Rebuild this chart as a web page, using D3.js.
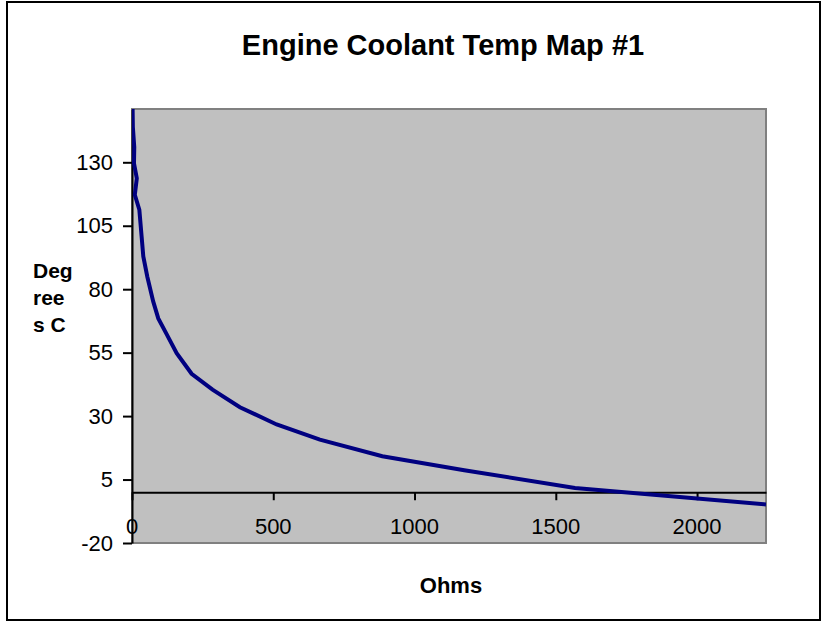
<!DOCTYPE html>
<html>
<head>
<meta charset="utf-8">
<script src="https://cdn.jsdelivr.net/npm/d3@7/dist/d3.min.js"></script>
<style>
  html, body { margin: 0; padding: 0; background: #fff; }
  svg { display: block; font-family: "Liberation Sans", Arial, Helvetica, sans-serif; }
</style>
</head>
<body>
<svg id="chart" width="822" height="623"></svg>
<script>
// Sensor resistance (ohms) against coolant temperature (degrees C)
const ohms  = [2, 3, 8, 7, 17, 10, 26, 34, 40, 54, 75, 93, 123, 158, 211, 285, 382, 512, 665, 886, 1176, 1568, 2244];
const temps = [152, 144, 136, 129.6, 123.7, 117.2, 111.3, 100.8, 92.9, 85, 75.2, 68.5, 62.2, 54.8, 46.7, 40.4, 33.5, 26.7, 20.7, 14.2, 8.7, 1.7, -4.8];

const xTicks = [0, 500, 1000, 1500, 2000];
const yTicks = [-20, 5, 30, 55, 80, 105, 130];
const xDomain = [0, 2244];
const yDomain = [-20, 151];

const titleText = "Engine Coolant Temp Map #1";
const xTitle = "Ohms";
const yTitleLines = ["Deg", "ree", "s C"];

const svg = d3.select("#chart");
const plot = { left: 132, right: 766, top: 109, bottom: 543 };

const x = d3.scaleLinear().domain(xDomain).range([plot.left, plot.right]);
const y = d3.scaleLinear().domain(yDomain).range([plot.bottom, plot.top]);

// outer chart frame
svg.append("rect")
  .attr("x", 7).attr("y", 2).attr("width", 813).attr("height", 618)
  .attr("fill", "#fff").attr("stroke", "#000").attr("stroke-width", 2);

// plot area
svg.append("rect")
  .attr("x", plot.left).attr("y", plot.top)
  .attr("width", plot.right - plot.left).attr("height", plot.bottom - plot.top)
  .attr("fill", "#c0c0c0").attr("stroke", "#808080").attr("stroke-width", 2);

svg.append("clipPath").attr("id", "plotClip")
  .append("rect")
  .attr("x", plot.left).attr("y", plot.top)
  .attr("width", plot.right - plot.left).attr("height", plot.bottom - plot.top);

// horizontal axis crossing at 0 degrees
const xAxis = svg.append("g")
  .attr("transform", `translate(0,${y(0)})`)
  .call(d3.axisBottom(x).tickValues(xTicks).tickSize(8).tickSizeOuter(0).tickFormat(""));
xAxis.select(".domain").attr("stroke", "#000").attr("stroke-width", 2);
xAxis.selectAll(".tick line").attr("stroke", "#000").attr("stroke-width", 2);

// horizontal tick labels sit at the bottom of the plot area
svg.append("g").selectAll("text")
  .data(xTicks).join("text")
  .attr("x", d => x(d))
  .attr("y", 534)
  .attr("text-anchor", "middle")
  .attr("font-size", 22)
  .attr("fill", "#000")
  .text(d => String(d));

// vertical axis
const yAxis = svg.append("g")
  .attr("transform", `translate(${plot.left},0)`)
  .call(d3.axisLeft(y).tickValues(yTicks).tickSize(9).tickSizeOuter(0).tickPadding(10)
    .tickFormat(d => String(d)));
yAxis.select(".domain").attr("stroke", "#000").attr("stroke-width", 2);
yAxis.selectAll(".tick line").attr("stroke", "#000").attr("stroke-width", 2);
yAxis.selectAll(".tick text")
  .attr("font-size", 22)
  .attr("font-family", "'Liberation Sans', Arial, sans-serif")
  .attr("fill", "#000");

// data line
const line = d3.line().x((d, i) => x(ohms[i])).y((d, i) => y(temps[i]));
svg.append("path")
  .datum(ohms)
  .attr("clip-path", "url(#plotClip)")
  .attr("d", line)
  .attr("fill", "none")
  .attr("stroke", "#000080")
  .attr("stroke-width", 4)
  .attr("stroke-linejoin", "miter");

// titles
svg.append("text")
  .attr("x", 443).attr("y", 55)
  .attr("text-anchor", "middle")
  .attr("font-size", 29)
  .attr("font-weight", "bold")
  .attr("fill", "#000")
  .text(titleText);

svg.append("text")
  .attr("x", 451).attr("y", 593)
  .attr("text-anchor", "middle")
  .attr("font-size", 22)
  .attr("font-weight", "bold")
  .attr("fill", "#000")
  .text(xTitle);

svg.append("g").selectAll("text")
  .data(yTitleLines).join("text")
  .attr("x", 33)
  .attr("y", (d, i) => 278 + i * 27)
  .attr("font-size", 21)
  .attr("font-weight", "bold")
  .attr("fill", "#000")
  .text(d => d);
</script>
</body>
</html>
